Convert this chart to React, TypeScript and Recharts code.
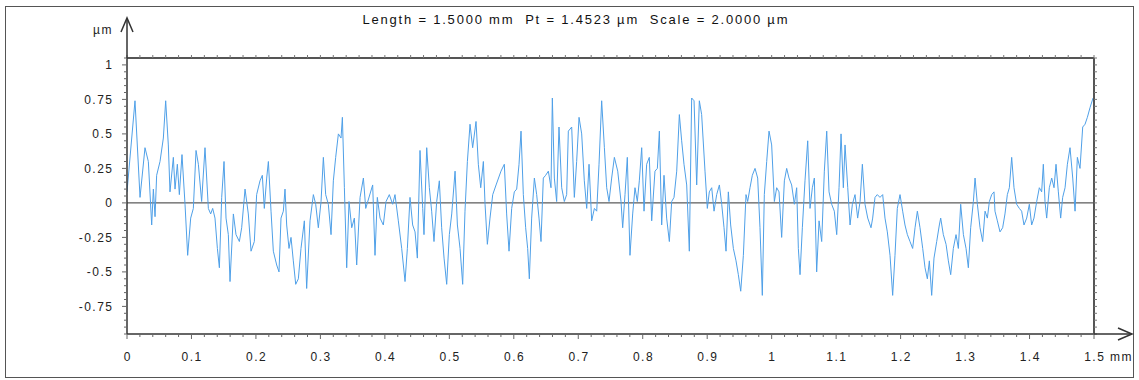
import { LineChart, Line, XAxis, YAxis, ReferenceLine } from "recharts";

const TITLE = "Length = 1.5000 mm  Pt = 1.4523 µm  Scale = 2.0000 µm";
const X_LABELS = [0, 0.1, 0.2, 0.3, 0.4, 0.5, 0.6, 0.7, 0.8, 0.9, 1, 1.1, 1.2, 1.3, 1.4, 1.5];
const Y_LABELS = [-0.75, -0.5, -0.25, 0, 0.25, 0.5, 0.75, 1];
const X_DOMAIN: [number, number] = [0, 1.5];
const Y_DOMAIN: [number, number] = [-0.95, 1.05];

// profile position along the trace (mm)
const POSITION_MM = [
  0.0, 0.0124, 0.0202, 0.0279, 0.0331, 0.0383, 0.0409, 0.0435, 0.046, 0.0512, 0.0564, 0.06, 0.0641, 0.0667,
  0.0719, 0.0745, 0.0781, 0.0812, 0.0853, 0.09, 0.0941, 0.0988, 0.1029, 0.1071, 0.1107, 0.1158, 0.121, 0.1262,
  0.1298, 0.1329, 0.1365, 0.1402, 0.1433, 0.1469, 0.1505, 0.1536, 0.1572, 0.1598, 0.165, 0.1691, 0.1743, 0.1779,
  0.1831,
  0.1882, 0.1924, 0.1975, 0.2011, 0.2063, 0.2099, 0.213, 0.2167, 0.2193, 0.2234, 0.227, 0.2322, 0.2358, 0.2389,
  0.2425, 0.2451, 0.2477, 0.2513, 0.2544, 0.258, 0.2617, 0.2658, 0.2699, 0.2751, 0.2787, 0.2839, 0.2891, 0.2927,
  0.2968, 0.301, 0.3046, 0.3082, 0.3123, 0.3165, 0.3201, 0.3237, 0.3279, 0.332, 0.3341, 0.3372, 0.3408, 0.3444,
  0.3486, 0.3527, 0.3563, 0.3615, 0.3667, 0.3703,
  0.3811, 0.3847, 0.3883, 0.3925, 0.3976, 0.4018, 0.4069, 0.4121, 0.4157, 0.4209, 0.4261, 0.4313, 0.4349, 0.439,
  0.4431, 0.4468, 0.4504, 0.4545, 0.4587, 0.4607, 0.4649, 0.469, 0.4726, 0.4762, 0.4804, 0.4845, 0.4881, 0.4918,
  0.4959, 0.5, 0.5037, 0.5089, 0.5125, 0.5166, 0.5207, 0.5243, 0.528, 0.5321, 0.5362, 0.5414, 0.545, 0.5487,
  0.5528, 0.5554, 0.559, 0.5631, 0.5673, 0.5725,
  0.5801, 0.5853, 0.5889, 0.5926, 0.5967, 0.6008, 0.6045, 0.6081, 0.6112, 0.6148, 0.6184, 0.6215, 0.6241, 0.6277,
  0.6319, 0.6355, 0.6391, 0.6422, 0.6458, 0.6494, 0.6536, 0.6577, 0.6598, 0.6629, 0.6665, 0.6701, 0.6743, 0.6784,
  0.682, 0.6846, 0.6898, 0.6939, 0.6975, 0.7012, 0.7053, 0.7094, 0.7131, 0.7167, 0.7208, 0.725, 0.7286, 0.7322,
  0.7363, 0.7405, 0.7441, 0.7477, 0.7518, 0.756, 0.7612, 0.7663,
  0.7689, 0.7725, 0.7761, 0.7802, 0.7844, 0.788, 0.7916, 0.7947, 0.7984, 0.802, 0.8061, 0.8102, 0.8139, 0.819,
  0.8227, 0.8258, 0.8294, 0.833, 0.8371, 0.8413, 0.8449, 0.8485, 0.8527, 0.8568, 0.8604, 0.864, 0.8682, 0.8723,
  0.8759, 0.8796, 0.8837, 0.8878, 0.8914, 0.8966, 0.9002, 0.9033, 0.907, 0.9106, 0.9147, 0.9189, 0.9225, 0.9261,
  0.9292, 0.9328, 0.9364, 0.9406, 0.9447, 0.9483, 0.952, 0.9561, 0.9602,
  0.9628, 0.9664, 0.97, 0.9742, 0.9783, 0.9819, 0.9855, 0.9886, 0.9923, 0.9959, 1.0, 1.0042, 1.0078, 1.0114,
  1.0155, 1.0197, 1.0233, 1.0269, 1.031, 1.0352, 1.0388, 1.0414, 1.044, 1.0476, 1.0517, 1.0559, 1.0595, 1.0631,
  1.0662, 1.0698, 1.0735, 1.0776, 1.0817, 1.0854, 1.089, 1.0931, 1.0972, 1.1009, 1.1045, 1.1076, 1.1112, 1.1138,
  1.118, 1.1216, 1.1252, 1.1293, 1.1334, 1.1371, 1.1407, 1.1448, 1.149, 1.1541,
  1.1567, 1.1603, 1.1639, 1.168, 1.1722, 1.1758, 1.1794, 1.1836, 1.1877, 1.1913, 1.1949, 1.1991, 1.2032, 1.2068,
  1.2105, 1.2146, 1.2187, 1.2224, 1.226, 1.2301, 1.2343, 1.2379, 1.2415, 1.2446, 1.2482, 1.2518, 1.256, 1.2601,
  1.2622, 1.2663, 1.2705, 1.2741, 1.2777, 1.2818, 1.286, 1.2896, 1.2932, 1.2974, 1.3015, 1.3051, 1.3087, 1.3129,
  1.3155, 1.3191, 1.3232, 1.3273, 1.331, 1.3346, 1.3377, 1.3413, 1.3449,
  1.3464, 1.3501, 1.3542, 1.3583, 1.3619, 1.3656, 1.3687, 1.3723, 1.3759, 1.38, 1.3842, 1.3878, 1.3914, 1.3956,
  1.3997, 1.4033, 1.4069, 1.4111, 1.4152, 1.4188, 1.4214, 1.424, 1.4266, 1.4307, 1.4344, 1.438, 1.4411, 1.4447,
  1.4483, 1.4514, 1.4551, 1.4587, 1.4628, 1.467, 1.4706, 1.4742, 1.4783, 1.4825, 1.4861, 1.4897, 1.4938, 1.4985,
];

// profile height (µm)
const HEIGHT_UM = [
  0.08, 0.74, 0.04, 0.4, 0.3, -0.16, 0.1, -0.1, 0.2, 0.3, 0.47, 0.74, 0.42, 0.08,
  0.33, 0.1, 0.28, 0.06, 0.35, -0.01, -0.38, -0.11, -0.04, 0.38, 0.28, 0.01, 0.4, -0.04,
  -0.08, -0.04, -0.11, -0.33, -0.47, 0.04, 0.3, -0.11, -0.23, -0.57, -0.08, -0.23, -0.28, -0.18,
  0.1,
  -0.08, -0.35, -0.28, 0.06, 0.16, 0.2, -0.04, 0.18, 0.3, -0.06, -0.35, -0.45, -0.5, -0.11,
  -0.06, 0.1, -0.16, -0.33, -0.25, -0.42, -0.59, -0.55, -0.33, -0.13, -0.62, -0.13, 0.06, -0.01,
  -0.18, 0.01, 0.33, 0.06, -0.01, -0.23, 0.16, 0.33, 0.5, 0.47, 0.62, 0.11, -0.47, 0.01,
  -0.18, -0.11, -0.45, 0.04, 0.18, -0.04,
  0.13, -0.38, 0.04, -0.11, -0.16, 0.01, 0.06, -0.01, 0.06, -0.13, -0.33, -0.57, -0.33, 0.04,
  -0.16, -0.21, -0.4, 0.38, -0.04, -0.23, 0.4, 0.11, -0.06, -0.28, 0.01, 0.16, -0.18, -0.4,
  -0.59, -0.23, -0.08, 0.23, -0.16, -0.33, -0.59, -0.06, 0.3, 0.57, 0.4, 0.59, 0.28, 0.11,
  0.3, -0.01, -0.3, -0.11, 0.06, 0.13,
  0.23, 0.28, -0.08, -0.35, -0.04, 0.08, 0.1, 0.28, 0.52, 0.06, -0.18, -0.33, -0.55, -0.11,
  0.18, 0.06, -0.11, -0.28, 0.18, 0.2, 0.23, 0.11, 0.76, 0.18, 0.01, 0.55, 0.11, 0.01,
  0.06, 0.52, 0.55, 0.04, 0.3, 0.62, 0.5, 0.16, -0.04, 0.28, -0.13, -0.04, -0.06, 0.28,
  0.74, 0.4, 0.11, 0.01, 0.18, 0.33, 0.23, 0.01,
  -0.18, 0.06, 0.33, -0.38, -0.08, 0.11, 0.01, 0.16, 0.4, -0.06, 0.28, 0.33, -0.13, 0.23,
  0.25, 0.52, -0.16, 0.2, -0.11, -0.28, 0.01, 0.04, 0.23, 0.64, 0.45, 0.28, 0.13, -0.35,
  0.76, 0.74, 0.13, 0.74, 0.64, 0.23, -0.04, 0.08, 0.11, -0.06, 0.06, 0.13, -0.01, -0.18,
  -0.35, 0.08, -0.16, -0.33, -0.42, -0.52, -0.64, -0.38, 0.06,
  0.01, 0.11, 0.2, 0.25, 0.18, -0.18, -0.67, 0.06, 0.3, 0.52, 0.42, 0.01, 0.11, 0.08,
  -0.25, 0.16, 0.25, 0.18, 0.13, -0.01, 0.11, -0.33, -0.52, -0.18, 0.16, 0.45, -0.04, 0.11,
  0.18, -0.5, -0.13, -0.28, 0.23, 0.52, 0.08, -0.01, -0.06, -0.23, 0.11, 0.5, 0.11, 0.42,
  0.11, -0.16, -0.01, 0.06, -0.11, 0.01, 0.28, -0.01, -0.11, -0.18,
  -0.11, 0.04, 0.06, 0.04, 0.06, -0.11, -0.21, -0.38, -0.67, -0.38, -0.04, 0.06, -0.06, -0.16,
  -0.23, -0.28, -0.33, -0.18, -0.06, -0.18, -0.33, -0.47, -0.55, -0.42, -0.67, -0.4, -0.28, -0.16,
  -0.11, -0.23, -0.3, -0.42, -0.52, -0.33, -0.23, -0.33, -0.01, -0.23, -0.33, -0.47, -0.18, 0.01,
  0.18, -0.01, -0.18, -0.28, -0.06, -0.11, 0.01, 0.06, 0.08,
  -0.06, -0.13, -0.21, -0.18, -0.08, 0.06, 0.11, 0.33, 0.11, -0.01, -0.04, -0.06, -0.16, -0.11,
  -0.01, -0.16, -0.11, 0.01, 0.11, 0.08, 0.28, 0.01, -0.11, 0.11, 0.18, 0.11, 0.28, 0.08,
  -0.11, 0.04, 0.11, 0.28, 0.4, 0.18, -0.06, 0.33, 0.25, 0.55, 0.57, 0.62, 0.69, 0.76,
];

const data = POSITION_MM.map((x, i) => ({ x, y: HEIGHT_UM[i] }));

const W = 1139;
const H = 380;
// plot box edges in page pixels
const BOX = { left: 127, top: 58, right: 1094, bottom: 334 };
const FONT = "'Liberation Sans', Arial, sans-serif";
const INK = "#222";
const SPACING = 1.5; // the source's labels are drawn wide

const xMinor = Array.from({ length: 76 }, (_, i) => i / 50);
const yMinor = Array.from({ length: 41 }, (_, i) => Math.round((-0.95 + i * 0.05) * 100) / 100);

const isLabel = (list: number[], v: number) => list.some((l) => Math.abs(l - v) < 1e-6);

function BottomTick(props: any) {
  const { x, payload } = props;
  const v = payload.value;
  const major = isLabel(X_LABELS, v);
  return (
    <g>
      <line x1={x} x2={x} y1={BOX.bottom} y2={BOX.bottom + (major ? 5 : 3)} stroke="#666" />
      {major && (
        <text
          x={x + SPACING / 2}
          y={BOX.bottom + 18}
          dy="0.71em"
          textAnchor="middle"
          fontSize={12}
          letterSpacing={SPACING}
          fontFamily={FONT}
          fill={INK}
        >
          {String(Math.round(v * 10) / 10)}
        </text>
      )}
    </g>
  );
}

function LeftTick(props: any) {
  const { y, payload } = props;
  const v = payload.value;
  const major = isLabel(Y_LABELS, v);
  return (
    <g>
      <line x1={BOX.left - (major ? 5 : 3)} x2={BOX.left} y1={y} y2={y} stroke="#666" />
      {major && (
        <text
          x={BOX.left - 15 + SPACING}
          y={y}
          dy="0.355em"
          textAnchor="end"
          fontSize={12}
          letterSpacing={SPACING}
          fontFamily={FONT}
          fill={INK}
        >
          {String(v)}
        </text>
      )}
    </g>
  );
}

function TopTick(props: any) {
  const { x } = props;
  return <line x1={x} x2={x} y1={BOX.top} y2={BOX.top - 3} stroke="#777" />;
}

function RightTick(props: any) {
  const { y } = props;
  return <line x1={BOX.right} x2={BOX.right + 3} y1={y} y2={y} stroke="#777" />;
}

export default function App() {
  return (
    <div style={{ position: "absolute", left: 0, top: 0, width: W, height: H, background: "#fff" }}>
      <LineChart
        width={W}
        height={H}
        data={data}
        margin={{ top: BOX.top - 10, right: W - BOX.right - 10, bottom: H - BOX.bottom - 30, left: BOX.left - 60 }}
      >
        <XAxis
          xAxisId={0}
          dataKey="x"
          type="number"
          domain={X_DOMAIN}
          allowDataOverflow
          ticks={xMinor}
          interval={0}
          height={30}
          tick={<BottomTick />}
          tickLine={false}
          axisLine={{ stroke: "#333", strokeWidth: 1.5 }}
        />
        <XAxis
          xAxisId="top"
          orientation="top"
          dataKey="x"
          type="number"
          domain={X_DOMAIN}
          allowDataOverflow
          ticks={xMinor}
          interval={0}
          height={10}
          tick={<TopTick />}
          tickLine={false}
          axisLine={{ stroke: "#555", strokeWidth: 2 }}
        />
        <YAxis
          yAxisId={0}
          type="number"
          domain={Y_DOMAIN}
          allowDataOverflow
          ticks={yMinor}
          interval={0}
          width={60}
          tick={<LeftTick />}
          tickLine={false}
          axisLine={{ stroke: "#333", strokeWidth: 1.5 }}
        />
        <YAxis
          yAxisId="right"
          orientation="right"
          type="number"
          domain={Y_DOMAIN}
          allowDataOverflow
          ticks={yMinor}
          interval={0}
          width={10}
          tick={<RightTick />}
          tickLine={false}
          axisLine={{ stroke: "#555", strokeWidth: 2 }}
        />
        <ReferenceLine y={0} stroke="#333" strokeWidth={1} />
        <Line
          xAxisId="top"
          yAxisId="right"
          dataKey="y"
          stroke="none"
          dot={false}
          isAnimationActive={false}
        />
        <Line
          type="linear"
          dataKey="y"
          stroke="#4fa0e8"
          strokeWidth={1}
          dot={false}
          isAnimationActive={false}
        />
      </LineChart>
      <svg
        width={W}
        height={H}
        style={{ position: "absolute", left: 0, top: 0, pointerEvents: "none" }}
      >
        <rect x={5.5} y={6.5} width={1128} height={371} fill="none" stroke="#555" />
        <text
          x={575}
          y={24}
          textAnchor="middle"
          fontSize={13}
          fontFamily={FONT}
          fill="#111"
          textLength={425}
          lengthAdjust="spacing"
          style={{ whiteSpace: "pre" }}
        >
          {TITLE}
        </text>
        <line x1={BOX.left} x2={BOX.left} y1={BOX.top} y2={19} stroke="#333" strokeWidth={1.5} />
        <polyline points={`${BOX.left - 6},32 ${BOX.left},18 ${BOX.left + 6},32`} fill="none" stroke="#333" strokeWidth={1.5} />
        <text x={113} y={34} textAnchor="end" fontSize={12} letterSpacing={SPACING} fontFamily={FONT} fill={INK}>
          µm
        </text>
        <line x1={BOX.right} x2={1131} y1={BOX.bottom} y2={BOX.bottom} stroke="#333" strokeWidth={1.5} />
        <polyline points={`1118,328 1132,${BOX.bottom} 1118,340`} fill="none" stroke="#333" strokeWidth={1.5} />
        <text x={1110} y={BOX.bottom + 18} dy="0.71em" fontSize={12} letterSpacing={SPACING} fontFamily={FONT} fill={INK}>
          mm
        </text>
      </svg>
    </div>
  );
}
